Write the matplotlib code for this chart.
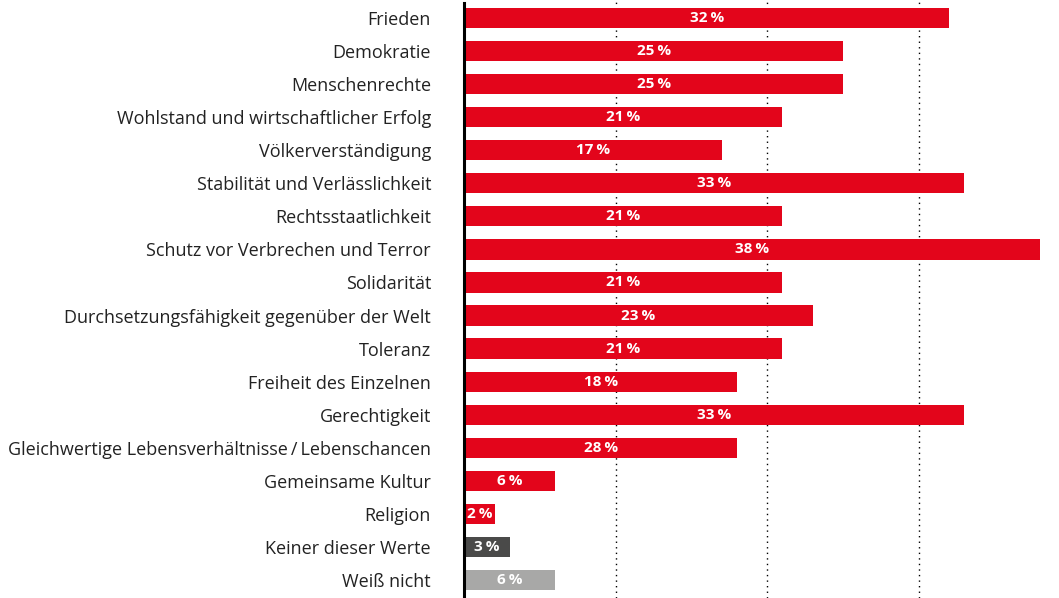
"""
Horizontal bar chart: values associated with Europe (share in %).
"""

import matplotlib.pyplot as plt

categories = [
    "Frieden",
    "Demokratie",
    "Menschenrechte",
    "Wohlstand und wirtschaftlicher Erfolg",
    "Völkerverständigung",
    "Stabilität und Verlässlichkeit",
    "Rechtsstaatlichkeit",
    "Schutz vor Verbrechen und Terror",
    "Solidarität",
    "Durchsetzungsfähigkeit gegenüber der Welt",
    "Toleranz",
    "Freiheit des Einzelnen",
    "Gerechtigkeit",
    "Gleichwertige Lebensverhältnisse\u2009/\u2009Lebenschancen",
    "Gemeinsame Kultur",
    "Religion",
    "Keiner dieser Werte",
    "Weiß nicht",
]
# bar lengths as drawn in the picture
bar_values = [32, 25, 25, 21, 17, 33, 21, 38, 21, 23, 21, 18, 33, 18, 6, 2, 3, 6]
# printed labels (one differs from its drawn bar in the original)
label_values = [32, 25, 25, 21, 17, 33, 21, 38, 21, 23, 21, 18, 33, 28, 6, 2, 3, 6]

RED = "#e3051b"
colors = [RED] * 16 + ["#4a4a49", "#a8a8a7"]

plt.rcParams['font.family'] = ['Open Sans', 'DejaVu Sans']

fig = plt.figure(figsize=(10.59, 5.98), dpi=100)
ax = fig.add_axes([0.4385, 0.0, 0.5435, 1.0])

y = list(range(len(categories)))
ax.barh(y, bar_values, height=0.61, color=colors, zorder=2)

for yi, v, lab in zip(y, bar_values, label_values):
    ax.text(v / 2, yi, f"{lab}\u2009%", ha="center", va="center",
            color="white", fontsize=11, fontweight="bold", zorder=3)

ax.set_xlim(0, 38)
ax.set_ylim(len(categories) - 0.45, -0.55)
ax.set_yticks(y)
ax.set_yticklabels(categories, fontsize=13, color="#222222")
ax.set_xticks([])
ax.tick_params(axis="y", length=0, pad=24)

for gx in (10, 20, 30):
    ax.axvline(gx, color="black", linestyle=(0, (1, 3)), linewidth=1, zorder=1)

for side in ("top", "right", "bottom"):
    ax.spines[side].set_visible(False)
ax.spines["left"].set_linewidth(2.2)
ax.spines["left"].set_color("black")
ax.spines["left"].set_bounds(len(categories) - 0.45, -0.45)
ax.spines["left"].set_zorder(4)

fig.savefig("out.png", dpi=100)
